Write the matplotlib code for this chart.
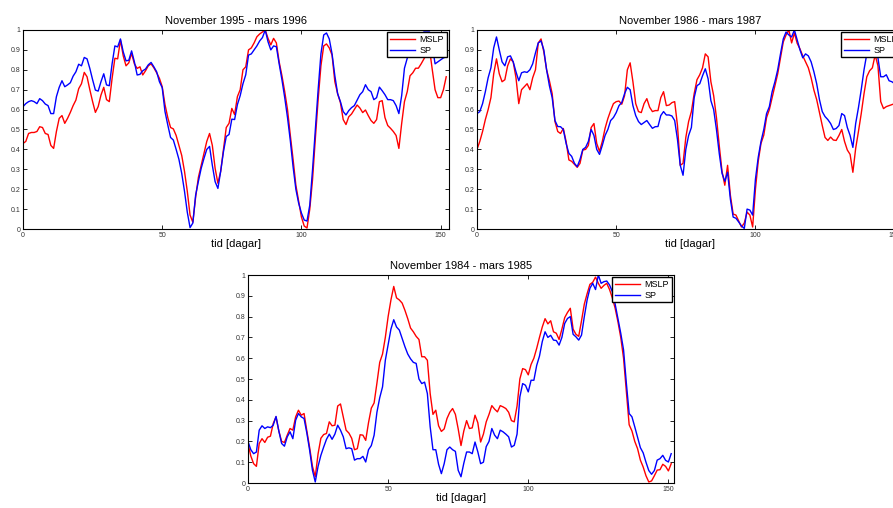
import matplotlib
matplotlib.use("Agg")
import matplotlib.pyplot as plt
from matplotlib.ticker import FuncFormatter
import numpy as np

plt.rcParams['font.family'] = ['Liberation Sans', 'DejaVu Sans']

# November 1995 - mars 1996
tl_mslp = [0.43, 0.44, 0.48, 0.485, 0.485, 0.49, 0.514, 0.51, 0.48, 0.475,
           0.42, 0.405, 0.49, 0.556, 0.57, 0.531, 0.556, 0.586, 0.62, 0.648,
           0.705, 0.73, 0.787, 0.765, 0.70, 0.64, 0.586, 0.615, 0.673, 0.712,
           0.65, 0.64, 0.757, 0.858, 0.855, 0.95, 0.87, 0.82, 0.835, 0.883,
           0.83, 0.807, 0.815, 0.774, 0.795, 0.82, 0.83, 0.81, 0.785, 0.757,
           0.715, 0.625, 0.56, 0.51, 0.503, 0.47, 0.42, 0.37, 0.29, 0.19,
           0.07, 0.034, 0.16, 0.26, 0.32, 0.38, 0.44, 0.48, 0.42, 0.305,
           0.23, 0.29, 0.40, 0.51, 0.531, 0.606, 0.575, 0.665, 0.70, 0.80,
           0.815, 0.90, 0.91, 0.935, 0.966, 0.98, 0.99, 1.0, 0.958, 0.925,
           0.958, 0.935, 0.84, 0.77, 0.69, 0.60, 0.472, 0.35, 0.22, 0.14,
           0.06, 0.015, 0.005, 0.10, 0.25, 0.455, 0.65, 0.82, 0.92, 0.93,
           0.91, 0.874, 0.74, 0.68, 0.635, 0.55, 0.525, 0.564, 0.578, 0.60,
           0.623, 0.608, 0.585, 0.598, 0.57, 0.545, 0.531, 0.55, 0.64, 0.645,
           0.56, 0.52, 0.506, 0.49, 0.47, 0.405, 0.53, 0.64, 0.69, 0.77,
           0.785, 0.808, 0.808, 0.83, 0.855, 0.88, 0.905, 0.80, 0.70, 0.66,
           0.66, 0.70, 0.765]
tl_sp = [0.615, 0.63, 0.64, 0.645, 0.64, 0.63, 0.655, 0.645, 0.628, 0.62,
         0.58, 0.58, 0.665, 0.712, 0.745, 0.715, 0.724, 0.735, 0.768, 0.79,
         0.828, 0.82, 0.862, 0.855, 0.807, 0.75, 0.698, 0.693, 0.74, 0.78,
         0.724, 0.72, 0.83, 0.92, 0.915, 0.955, 0.89, 0.845, 0.848, 0.895,
         0.84, 0.774, 0.777, 0.795, 0.804, 0.825, 0.837, 0.815, 0.79, 0.74,
         0.71, 0.59, 0.523, 0.46, 0.447, 0.40, 0.35, 0.28, 0.19, 0.085,
         0.007, 0.03, 0.17, 0.24, 0.305, 0.355, 0.40, 0.415, 0.32, 0.238,
         0.204, 0.29, 0.389, 0.465, 0.475, 0.552, 0.55, 0.625, 0.67, 0.73,
         0.775, 0.874, 0.88, 0.90, 0.92, 0.945, 0.962, 1.0, 0.941, 0.90,
         0.92, 0.916, 0.83, 0.75, 0.66, 0.56, 0.445, 0.313, 0.20, 0.13,
         0.08, 0.045, 0.04, 0.12, 0.30, 0.50, 0.70, 0.88, 0.975, 0.985,
         0.955, 0.88, 0.77, 0.68, 0.64, 0.59, 0.573, 0.595, 0.61, 0.62,
         0.648, 0.675, 0.69, 0.725, 0.70, 0.69, 0.65, 0.66, 0.713, 0.695,
         0.675, 0.65, 0.65, 0.645, 0.62, 0.58, 0.67, 0.808, 0.858, 0.89,
         0.93, 0.96, 0.97, 0.98, 0.99, 0.99, 0.99, 0.92, 0.83, 0.84,
         0.85, 0.86, 0.865]

# November 1986 - mars 1987
tr_mslp = [0.40, 0.44, 0.49, 0.55, 0.60, 0.66, 0.78, 0.855, 0.78, 0.74,
           0.75, 0.82, 0.855, 0.84, 0.76, 0.63, 0.70, 0.715, 0.73, 0.70,
           0.76, 0.80, 0.935, 0.955, 0.89, 0.80, 0.745, 0.68, 0.54, 0.49,
           0.48, 0.505, 0.44, 0.347, 0.34, 0.325, 0.31, 0.33, 0.397, 0.40,
           0.42, 0.51, 0.53, 0.43, 0.39, 0.44, 0.506, 0.555, 0.595, 0.63,
           0.64, 0.643, 0.627, 0.67, 0.80, 0.835, 0.74, 0.63, 0.59, 0.585,
           0.63, 0.655, 0.612, 0.59, 0.595, 0.595, 0.66, 0.69, 0.62, 0.623,
           0.635, 0.64, 0.52, 0.32, 0.33, 0.46, 0.54, 0.59, 0.68, 0.75,
           0.775, 0.81, 0.88, 0.865, 0.74, 0.67, 0.56, 0.42, 0.29, 0.22,
           0.32, 0.17, 0.075, 0.07, 0.04, 0.01, 0.03, 0.085, 0.07, 0.01,
           0.20, 0.34, 0.43, 0.472, 0.56, 0.60, 0.66, 0.72, 0.78, 0.86,
           0.94, 0.975, 1.0, 0.935, 0.985, 0.933, 0.905, 0.87, 0.84, 0.81,
           0.76, 0.698, 0.65, 0.585, 0.52, 0.46, 0.445, 0.462, 0.447, 0.445,
           0.47, 0.50, 0.44, 0.397, 0.375, 0.285, 0.405, 0.49, 0.58, 0.68,
           0.765, 0.795, 0.81, 0.875, 0.82, 0.64, 0.605, 0.615, 0.62, 0.625,
           0.63, 0.635, 0.64]
tr_sp = [0.58, 0.59, 0.63, 0.69, 0.76, 0.81, 0.91, 0.965, 0.90, 0.84,
         0.82, 0.865, 0.87, 0.84, 0.79, 0.745, 0.785, 0.79, 0.787, 0.80,
         0.83, 0.885, 0.935, 0.945, 0.90, 0.80, 0.72, 0.66, 0.545, 0.515,
         0.514, 0.50, 0.43, 0.38, 0.365, 0.33, 0.313, 0.35, 0.40, 0.41,
         0.44, 0.50, 0.47, 0.40, 0.375, 0.42, 0.47, 0.50, 0.545, 0.56,
         0.585, 0.62, 0.636, 0.68, 0.712, 0.70, 0.62, 0.57, 0.54, 0.525,
         0.535, 0.545, 0.525, 0.506, 0.514, 0.515, 0.57, 0.59, 0.573, 0.573,
         0.568, 0.545, 0.45, 0.32, 0.27, 0.40, 0.47, 0.51, 0.66, 0.72,
         0.73, 0.77, 0.805, 0.755, 0.645, 0.60, 0.50, 0.38, 0.28, 0.24,
         0.285, 0.15, 0.06, 0.054, 0.035, 0.015, 0.003, 0.10, 0.095, 0.07,
         0.25, 0.36, 0.44, 0.50, 0.58, 0.615, 0.69, 0.74, 0.80, 0.88,
         0.955, 0.99, 0.975, 0.965, 1.0, 0.95, 0.90, 0.86, 0.88, 0.87,
         0.84, 0.79, 0.73, 0.65, 0.59, 0.565, 0.55, 0.53, 0.50, 0.505,
         0.52, 0.58, 0.57, 0.51, 0.47, 0.41, 0.53, 0.61, 0.70, 0.80,
         0.88, 0.92, 0.95, 0.93, 0.86, 0.765, 0.765, 0.775, 0.745, 0.74,
         0.73, 0.725, 0.72]

# November 1984 - mars 1985
bo_mslp = [0.19, 0.13, 0.093, 0.08, 0.19, 0.213, 0.195, 0.22, 0.225, 0.286,
           0.318, 0.25, 0.20, 0.195, 0.23, 0.262, 0.254, 0.318, 0.35, 0.326,
           0.334, 0.25, 0.17, 0.08, 0.03, 0.14, 0.215, 0.233, 0.238, 0.294,
           0.275, 0.278, 0.37, 0.38, 0.318, 0.254, 0.24, 0.215, 0.16, 0.165,
           0.232, 0.23, 0.205, 0.29, 0.36, 0.385, 0.48, 0.58, 0.62, 0.70,
           0.80, 0.88, 0.945, 0.89, 0.88, 0.865, 0.83, 0.79, 0.745, 0.727,
           0.705, 0.69, 0.607, 0.607, 0.59, 0.43, 0.33, 0.35, 0.275, 0.248,
           0.26, 0.31, 0.34, 0.358, 0.33, 0.26, 0.18, 0.25, 0.30, 0.262,
           0.265, 0.326, 0.29, 0.197, 0.235, 0.294, 0.33, 0.372, 0.355, 0.342,
           0.372, 0.366, 0.358, 0.34, 0.30, 0.294, 0.37, 0.50, 0.55, 0.545,
           0.52, 0.57, 0.60, 0.647, 0.70, 0.75, 0.79, 0.765, 0.78, 0.727,
           0.72, 0.69, 0.74, 0.795, 0.82, 0.84, 0.74, 0.715, 0.705, 0.78,
           0.86, 0.91, 0.955, 0.965, 0.99, 0.96, 0.936, 0.95, 0.96, 0.93,
           0.89, 0.84, 0.775, 0.70, 0.60, 0.44, 0.28, 0.25, 0.20, 0.165,
           0.11, 0.077, 0.035, 0.005, 0.01, 0.035, 0.062, 0.064, 0.09, 0.08,
           0.058, 0.093]
bo_sp = [0.20, 0.16, 0.141, 0.149, 0.254, 0.275, 0.262, 0.27, 0.266, 0.278,
         0.32, 0.25, 0.19, 0.177, 0.222, 0.246, 0.213, 0.302, 0.334, 0.318,
         0.31, 0.24, 0.157, 0.061, 0.005, 0.08, 0.133, 0.173, 0.21, 0.235,
         0.21, 0.235, 0.278, 0.254, 0.222, 0.165, 0.169, 0.165, 0.11, 0.117,
         0.117, 0.128, 0.101, 0.16, 0.18, 0.23, 0.34, 0.41, 0.462, 0.59,
         0.665, 0.74, 0.785, 0.75, 0.735, 0.695, 0.655, 0.62, 0.597, 0.58,
         0.575, 0.50, 0.478, 0.485, 0.43, 0.27, 0.16, 0.16, 0.09, 0.045,
         0.093, 0.16, 0.173, 0.16, 0.152, 0.061, 0.03, 0.095, 0.149, 0.149,
         0.141, 0.197, 0.15, 0.093, 0.10, 0.175, 0.20, 0.262, 0.23, 0.213,
         0.254, 0.246, 0.235, 0.222, 0.173, 0.181, 0.235, 0.414, 0.478, 0.47,
         0.438, 0.494, 0.494, 0.565, 0.61, 0.68, 0.727, 0.70, 0.71, 0.687,
         0.685, 0.663, 0.70, 0.767, 0.791, 0.80, 0.715, 0.703, 0.687, 0.711,
         0.80, 0.88, 0.936, 0.96, 0.93, 1.0, 0.96, 0.968, 0.971, 0.952,
         0.92, 0.86, 0.79, 0.72, 0.64, 0.48, 0.334, 0.318, 0.27, 0.22,
         0.17, 0.145, 0.10, 0.06, 0.042, 0.06, 0.11, 0.117, 0.133, 0.109,
         0.101, 0.141]

titles = ["November 1995 - mars 1996", "November 1986 - mars 1987",
          "November 1984 - mars 1985"]
series = [(tl_mslp, tl_sp), (tr_mslp, tr_sp), (bo_mslp, bo_sp)]

W, H = 893, 508
# axes boxes in pixels: left, top, width, height
boxes = [(23, 30, 426, 199), (477, 30, 426, 199), (248, 275, 426, 208)]

fig = plt.figure(figsize=(W / 100, H / 100), dpi=100)

for k in range(3):
    l, t, w, h = boxes[k]
    ax = fig.add_axes([l / W, 1 - (t + h) / H, w / W, h / H])
    mslp, sp = series[k]
    days = np.arange(len(mslp))
    ax.plot(days, mslp, color='#ff0000', lw=1.0, label='MSLP')
    ax.plot(days, sp, color='#0000ff', lw=1.0, label='SP')
    ax.set_xlim(0, len(mslp))
    ax.set_ylim(0, 1)
    ax.set_xticks([0, 50, 100, 150])
    ax.set_yticks(np.arange(0, 1.05, 0.1))
    ax.yaxis.set_major_formatter(FuncFormatter(lambda v, p: f'{v:g}'))
    ax.tick_params(direction='in', top=True, right=True, length=3, width=0.6,
                   labelsize=5, pad=2, colors='black', labelcolor='#333333')
    for s in ax.spines.values():
        s.set_linewidth(0.8)
    ax.set_title(titles[k], fontsize=8, pad=4)
    ax.set_xlabel('tid [dagar]', fontsize=8, labelpad=0)
    leg = ax.legend(loc='upper right', fontsize=6.5, fancybox=False,
                    edgecolor='black', framealpha=1, borderpad=0.3,
                    handlelength=2.8, handletextpad=0.5, labelspacing=0.2,
                    borderaxespad=0.25)
    leg.get_frame().set_linewidth(1.0)

fig.savefig('out.png', dpi=100)
